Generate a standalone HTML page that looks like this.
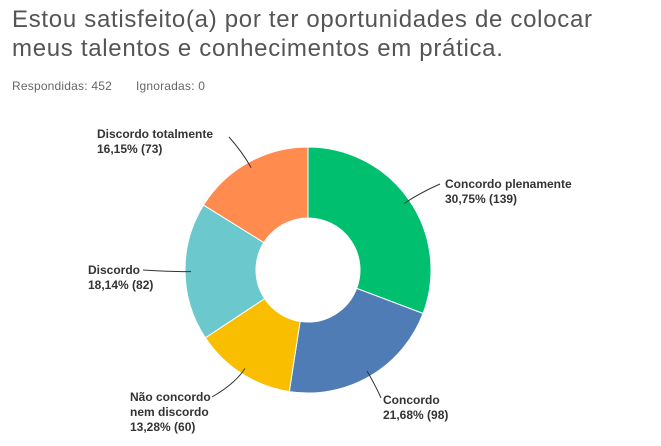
<!DOCTYPE html>
<html><head><meta charset="utf-8"><style>
body{margin:0;width:661px;height:446px;background:#fff;font-family:"Liberation Sans",sans-serif;overflow:hidden}
.t{position:absolute;left:12px;top:5px;font-size:24px;letter-spacing:0.7px;line-height:29px;color:#555}
.s{position:absolute;left:12px;top:79px;font-size:12px;color:#666;letter-spacing:0.2px}
</style></head><body>
<div class="t">Estou satisfeito(a) por ter oportunidades de colocar<br>meus talentos e conhecimentos em prática.</div>
<div class="s">Respondidas: 452<span style="margin-left:24px">Ignoradas: 0</span></div>
<svg id="c" width="661" height="446" style="position:absolute;left:0;top:0"></svg>
<script>
const categories=["Concordo plenamente","Concordo","Não concordo nem discordo","Discordo","Discordo totalmente"];
const values=[30.75,21.68,13.28,18.14,16.15];
const counts=[139,98,60,82,73];
const colors=["#00BF6F","#507CB6","#F9BE00","#6BC8CD","#FF8B4F"];
const svg=document.getElementById('c');const NS="http://www.w3.org/2000/svg";
const cx=308,cy=270,R=123,r=52;
const total=values.reduce((a,b)=>a+b,0);
function pt(a,rad){return [cx+rad*Math.sin(a),cy-rad*Math.cos(a)];}
let a0=0;
const mids=[];
values.forEach((v,i)=>{
 const a1=a0+v/total*2*Math.PI;const lg=(a1-a0)>Math.PI?1:0;
 const p1=pt(a0,R),p2=pt(a1,R),p3=pt(a1,r),p4=pt(a0,r);
 const p=document.createElementNS(NS,'path');
 p.setAttribute('d',`M${p1}A${R},${R} 0 ${lg} 1 ${p2}L${p3}A${r},${r} 0 ${lg} 0 ${p4}Z`);
 p.setAttribute('fill',colors[i]);p.setAttribute('stroke','#fff');p.setAttribute('stroke-width','1');
 
 
 svg.appendChild(p);mids.push((a0+a1)/2);a0=a1;
});
const labels=[
 {x:445,y:188,lines:["Concordo plenamente"],end:[440,184]},
 {x:383,y:404,lines:["Concordo"],end:[381,398]},
 {x:130,y:401,lines:["Não concordo","nem discordo"],end:[212,397]},
 {x:88,y:274,lines:["Discordo"],end:[143,270]},
 {x:97,y:138,lines:["Discordo totalmente"],end:[229,137]}
];
labels.forEach((L,i)=>{
 const s=pt(mids[i],R-6);
 const ln=document.createElementNS(NS,'path');
 const c=pt(mids[i],R+12);
 ln.setAttribute('d',`M${s}Q${c} ${L.end}`);ln.setAttribute('fill','none');ln.setAttribute('stroke','#333');ln.setAttribute('stroke-width','1');
 
 
 svg.appendChild(ln);
 const t=document.createElementNS(NS,'text');
 t.setAttribute('x',L.x);t.setAttribute('y',L.y);t.setAttribute('font-size','12');t.setAttribute('font-weight','bold');t.setAttribute('fill','#333');t.setAttribute('font-family','Liberation Sans, sans-serif');
 
 
 const all=L.lines.concat([values[i].toFixed(2).replace('.',',')+'% ('+counts[i]+')']);
 all.forEach((s2,j)=>{const ts=document.createElementNS(NS,'tspan');ts.setAttribute('x',L.x);ts.setAttribute('dy',j?15:0);ts.textContent=s2;t.appendChild(ts);});
 svg.appendChild(t);
});
</script>
</body></html>
